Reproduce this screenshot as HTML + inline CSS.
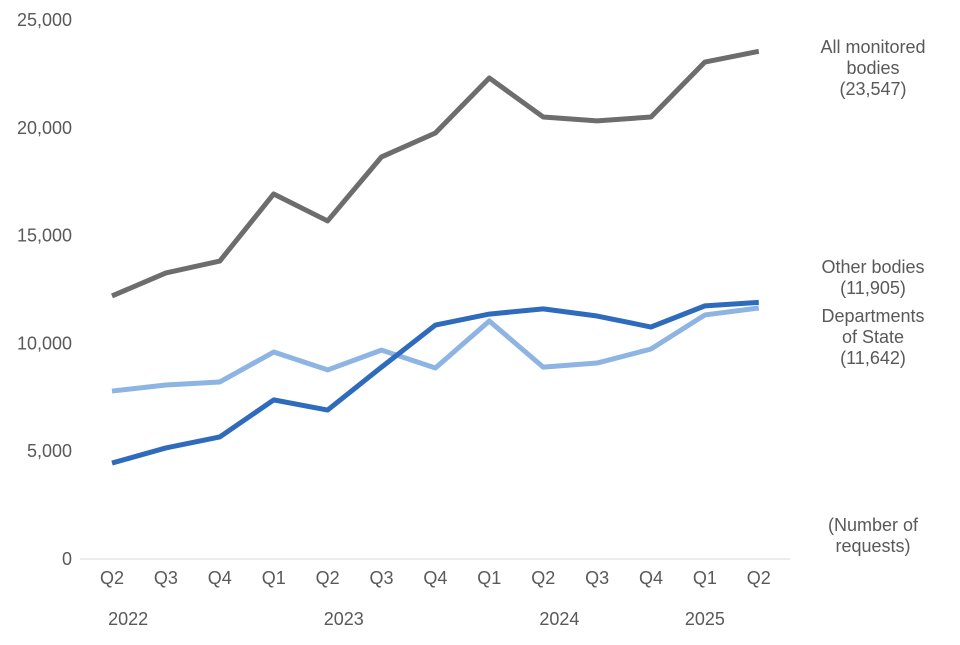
<!DOCTYPE html>
<html><head><meta charset="utf-8">
<style>
body{margin:0;background:#fff;}
svg text{font-family:"Liberation Sans",Arial,sans-serif;fill:#595959;}
</style></head>
<body>
<svg width="960" height="640" viewBox="0 0 960 640">
<g id="grid"></g>
<g id="series"></g>
<g id="labels"></g>
</svg>
<script>
const categories=["Q2","Q3","Q4","Q1","Q2","Q3","Q4","Q1","Q2","Q3","Q4","Q1","Q2"];
const years=["2022","2023","2024","2025"];
const yearPositions=[0.3,4.3,8.3,11];
const allBodies=[12200,13270,13820,16930,15680,18650,19760,22310,20500,20320,20500,23050,23547];
const otherBodies=[4450,5150,5660,7380,6910,8900,10850,11360,11600,11270,10760,11740,11905];
const departments=[7790,8070,8210,9600,8770,9690,8860,11040,8900,9090,9740,11320,11642];
const yTicks=[0,5000,10000,15000,20000,25000];
const yTickLabels=["0","5,000","10,000","15,000","20,000","25,000"];

const NS="http://www.w3.org/2000/svg";
const x0=112,dx=53.9,yBase=559,yTop=20,yMax=25000;
const X=i=>x0+i*dx;
const Y=v=>yBase-(v/yMax)*(yBase-yTop);
function mk(tag,attrs,parent,text){const e=document.createElementNS(NS,tag);for(const k in attrs)e.setAttribute(k,attrs[k]);if(text!==undefined)e.textContent=text;parent.appendChild(e);return e;}
const grid=document.getElementById('grid'),ser=document.getElementById('series'),lab=document.getElementById('labels');

const axis=mk('line',{x1:80,x2:790,y1:yBase,y2:yBase,stroke:'#d9d9d9','stroke-width':1},grid);



yTicks.forEach((t,i)=>{
  const e=mk('text',{x:72,y:Y(t)+6,'text-anchor':'end','font-size':18},lab,yTickLabels[i]);
  
  
});
categories.forEach((c,i)=>{
  const e=mk('text',{x:X(i),y:584,'text-anchor':'middle','font-size':18},lab,c);
  
  
});
years.forEach((yr,i)=>{
  const e=mk('text',{x:X(yearPositions[i]),y:625,'text-anchor':'middle','font-size':18},lab,yr);
  
  
});

function drawLine(vals,color,name){
  const p=mk('polyline',{points:vals.map((v,i)=>X(i)+','+Y(v)).join(' '),fill:'none',stroke:color,'stroke-width':5,'stroke-linejoin':'round'},ser);
  
  
}
drawLine(departments,'#8db4e2','departments-line');
drawLine(otherBodies,'#2e6bbd','other-bodies-line');
drawLine(allBodies,'#6d6d6d','all-bodies-line');

function block(lines,y,name){
  const t=mk('text',{x:873,y:y,'text-anchor':'middle','font-size':18},lab);
  
  
  lines.forEach((l,i)=>mk('tspan',{x:873,dy:i?21:0},t,l));
}
block(["All monitored","bodies","(23,547)"],53,'all-bodies-label');
block(["Other bodies","(11,905)"],273,'other-bodies-label');
block(["Departments","of State","(11,642)"],322,'departments-label');
block(["(Number of","requests)"],531,'unit-label');
</script>
</body></html>
